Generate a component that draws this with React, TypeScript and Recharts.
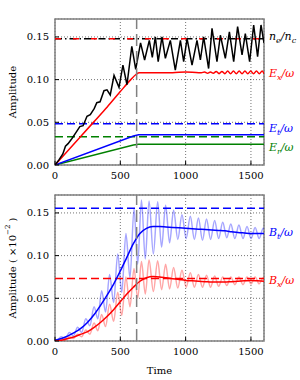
import { CartesianGrid, Line, LineChart, ReferenceArea, ReferenceDot, ReferenceLine, XAxis, YAxis } from 'recharts';

const FONT = '"DejaVu Serif", serif';

// top panel: density and field amplitudes
const neTime = [0, 30, 60, 80, 100, 130, 160, 190, 215, 245, 270, 300, 320, 345, 375, 398, 423, 452, 490, 520, 551, 588, 618, 655, 686, 722, 745, 768, 790, 819, 845, 883, 921, 960, 985, 1011, 1049, 1087, 1113, 1138, 1176, 1202, 1240, 1266, 1304, 1335, 1368, 1398, 1432, 1457, 1490, 1521, 1551, 1577, 1600];
const neVal = [0, 0.006, 0.013, 0.022, 0.025, 0.031, 0.038, 0.045, 0.046, 0.057, 0.059, 0.066, 0.073, 0.074, 0.087, 0.088, 0.082, 0.105, 0.091, 0.117, 0.094, 0.139, 0.112, 0.143, 0.123, 0.146, 0.126, 0.150, 0.121, 0.150, 0.125, 0.146, 0.111, 0.146, 0.121, 0.148, 0.117, 0.146, 0.123, 0.150, 0.113, 0.160, 0.121, 0.152, 0.125, 0.156, 0.121, 0.162, 0.129, 0.154, 0.121, 0.164, 0.127, 0.164, 0.143];

const exTime = [0, 100, 200, 300, 400, 500, 580, 620, 645, 700, 800, 900, 1000, 1100, 1120, 1145, 1168, 1190, 1212, 1234, 1256, 1278, 1300, 1322, 1344, 1366, 1388, 1410, 1432, 1454, 1476, 1498, 1520, 1542, 1564, 1586, 1600];
const exVal = [0, 0.017, 0.034, 0.051, 0.068, 0.086, 0.100, 0.106, 0.108, 0.108, 0.108, 0.108, 0.109, 0.108, 0.108, 0.109, 0.1075, 0.109, 0.1075, 0.1095, 0.107, 0.1095, 0.107, 0.110, 0.107, 0.110, 0.107, 0.110, 0.107, 0.110, 0.107, 0.110, 0.107, 0.110, 0.107, 0.110, 0.107];

const etTime = [0, 600, 640, 1600];
const etVal = [0, 0.034, 0.0353, 0.0353];
const erTime = [0, 600, 640, 1600];
const erVal = [0, 0.0235, 0.0243, 0.0243];

const topThresholds = { ne: 0.148, et: 0.0484, er: 0.0332 };

// bottom panel: magnetic field amplitudes
const smoothTime = [0, 50, 100, 150, 200, 250, 300, 350, 400, 450, 500, 550, 600, 650, 700, 750, 800, 850, 900, 950, 1000, 1050, 1100, 1150, 1200, 1250, 1300, 1350, 1400, 1450, 1500, 1550, 1600];
const btSmooth = [0.001, 0.003, 0.006, 0.010, 0.015, 0.022, 0.031, 0.042, 0.054, 0.067, 0.082, 0.098, 0.114, 0.126, 0.132, 0.134, 0.134, 0.1335, 0.133, 0.1325, 0.132, 0.1315, 0.131, 0.1305, 0.130, 0.1295, 0.129, 0.128, 0.127, 0.1265, 0.126, 0.126, 0.126];
const bxSmooth = [0, 0.001, 0.003, 0.005, 0.008, 0.011, 0.016, 0.022, 0.029, 0.037, 0.046, 0.055, 0.063, 0.070, 0.074, 0.0755, 0.075, 0.074, 0.073, 0.072, 0.071, 0.0705, 0.070, 0.0695, 0.069, 0.069, 0.069, 0.0695, 0.070, 0.0705, 0.071, 0.0705, 0.070];

const oscTime = [0, 16, 47, 78, 110, 141, 173, 204, 236, 267, 299, 328, 357, 387, 418, 449, 480, 511, 543, 574, 605, 633, 662, 691, 720, 753, 786, 816, 847, 877, 908, 940, 972, 1004, 1036, 1067, 1098, 1129, 1160, 1191, 1222, 1253, 1284, 1315, 1346, 1377, 1408, 1439, 1470, 1501, 1532, 1563, 1594, 1600];
const btOsc = [0.001, 0.001, 0.005, 0.003, 0.010, 0.006, 0.016, 0.010, 0.026, 0.018, 0.040, 0.026, 0.059, 0.034, 0.078, 0.045, 0.102, 0.057, 0.126, 0.074, 0.155, 0.090, 0.165, 0.096, 0.164, 0.102, 0.163, 0.110, 0.159, 0.115, 0.153, 0.119, 0.148, 0.120, 0.146, 0.119, 0.144, 0.118, 0.143, 0.119, 0.141, 0.120, 0.139, 0.121, 0.137, 0.120, 0.136, 0.120, 0.134, 0.120, 0.133, 0.120, 0.132, 0.131];
const bxOsc = [0, 0, 0.002, 0.001, 0.005, 0.003, 0.008, 0.005, 0.013, 0.008, 0.021, 0.012, 0.031, 0.017, 0.043, 0.023, 0.057, 0.030, 0.075, 0.040, 0.085, 0.050, 0.093, 0.055, 0.095, 0.058, 0.094, 0.060, 0.090, 0.061, 0.086, 0.062, 0.083, 0.063, 0.080, 0.063, 0.078, 0.063, 0.077, 0.063, 0.076, 0.064, 0.075, 0.065, 0.075, 0.066, 0.075, 0.066, 0.075, 0.067, 0.075, 0.067, 0.074, 0.073];

const bottomThresholds = { bt: 0.1555, bx: 0.0732 };

const X_TICKS = [0, 500, 1000, 1500];
const Y_TICKS = [0, 0.05, 0.1, 0.15];
const Y_MAX = 0.171;
const SATURATION_TIME = 625;

const zip = (t: number[], v: number[]) => t.map((x, i) => ({ t: x, v: v[i] }));

const tickStyle = { fontFamily: FONT, fontSize: 10, fill: '#000' };

type Part = { s: string; sub?: boolean };

function MathLabel({ viewBox, parts, color }: any) {
    const x = viewBox.x + 5;
    const y = viewBox.y + 3.5;
    let shift = 0;
    return (
        <text x={x} y={y} fill={color} fontFamily={FONT} fontStyle="italic" fontSize={11}>
            {parts.map((p: Part, i: number) => {
                const target = p.sub ? 3 : 0;
                const dy = target - shift;
                shift = target;
                return (
                    <tspan key={i} dy={dy} fontSize={p.sub ? 8 : 11}>{p.s}</tspan>
                );
            })}
        </text>
    );
}

function YTitle({ viewBox, sci }: any) {
    const x = viewBox.x + 12;
    const y = viewBox.y + viewBox.height / 2;
    return (
        <text x={x} y={y} transform={`rotate(-90 ${x} ${y})`} textAnchor="middle" dominantBaseline="central"
            fontFamily={FONT} fontSize={10} fill="#000">
            Amplitude
            {sci && <tspan> ( ×10</tspan>}
            {sci && <tspan dy={-4} fontSize={7}>−2</tspan>}
            {sci && <tspan dy={4}> )</tspan>}
        </text>
    );
}

function XTitle({ viewBox }: any) {
    return (
        <text x={viewBox.x + viewBox.width / 2} y={viewBox.y + 33} textAnchor="middle"
            fontFamily={FONT} fontSize={10} fill="#000">
            Time
        </text>
    );
}

function frameAxes(xHeight: number, sci: boolean, withTime: boolean) {
    return [
        <XAxis key="xb" dataKey="t" type="number" domain={[0, 1600]} ticks={X_TICKS} interval={0}
            allowDataOverflow axisLine={false} tick={tickStyle} tickSize={-4} tickMargin={11}
            tickLine={{ stroke: '#000' }} height={xHeight}
            label={withTime ? <XTitle /> : undefined} />,
        <XAxis key="xt" xAxisId="top" orientation="top" type="number" domain={[0, 1600]} ticks={X_TICKS}
            interval={0} axisLine={false} tickFormatter={() => ''} tickSize={-4}
            tickLine={{ stroke: '#000' }} height={0} />,
        <YAxis key="yl" type="number" domain={[0, Y_MAX]} ticks={Y_TICKS} interval={0} allowDataOverflow
            axisLine={false} tick={tickStyle} tickSize={-4} tickMargin={10} tickLine={{ stroke: '#000' }}
            tickFormatter={(v: number) => v.toFixed(2)} width={55} label={<YTitle sci={sci} />} />,
        <YAxis key="yr" yAxisId="right" orientation="right" type="number" domain={[0, Y_MAX]} ticks={Y_TICKS}
            interval={0} axisLine={false} tickFormatter={() => ''} tickSize={-4}
            tickLine={{ stroke: '#000' }} width={0} />,
        <CartesianGrid key="grid" strokeDasharray="1 2" stroke="#000" strokeOpacity={0.55} />,
    ];
}

function sideLabel(key: string, y: number, color: string, parts: Part[]) {
    return (
        <ReferenceDot key={key} x={1600} y={y} r={0} fill="none" stroke="none" ifOverflow="visible"
            label={<MathLabel parts={parts} color={color} />} />
    );
}

function TopPanel() {
    return (
        <LineChart width={300} height={190} margin={{ top: 19, right: 36, bottom: 0, left: 0 }}>
            {frameAxes(25, false, false)}
            <ReferenceLine y={topThresholds.ne} stroke="#000" strokeWidth={1.5} strokeDasharray="7 3 1.5 3" />
            <ReferenceLine y={topThresholds.ne} stroke="#ff0000" strokeWidth={1.5} strokeDasharray="6 12" />
            <ReferenceLine y={topThresholds.et} stroke="#0000ff" strokeWidth={1.5} strokeDasharray="8 4" />
            <ReferenceLine y={topThresholds.er} stroke="#008000" strokeWidth={1.5} strokeDasharray="8 4" />
            <Line data={zip(erTime, erVal)} dataKey="v" type="linear" stroke="#008000" strokeWidth={1.5} dot={false} isAnimationActive={false} />
            <Line data={zip(etTime, etVal)} dataKey="v" type="linear" stroke="#0000ff" strokeWidth={1.5} dot={false} isAnimationActive={false} />
            <Line data={zip(exTime, exVal)} dataKey="v" type="monotone" stroke="#ff0000" strokeWidth={1.5} dot={false} isAnimationActive={false} />
            <Line data={zip(neTime, neVal)} dataKey="v" type="linear" stroke="#000" strokeWidth={1.5} dot={false} isAnimationActive={false} />
            <ReferenceLine x={SATURATION_TIME} stroke="#808080" strokeWidth={1.5} strokeDasharray="12 5" />
            <ReferenceArea x1={0} x2={1600} y1={0} y2={Y_MAX} fill="none" stroke="#808080" strokeWidth={1.5} />
            {sideLabel('ne', 0.150, '#000', [{ s: 'n' }, { s: 'e', sub: true }, { s: '/n' }, { s: 'c', sub: true }])}
            {sideLabel('ex', 0.1077, '#ff0000', [{ s: 'E' }, { s: 'x', sub: true }, { s: '/ω' }])}
            {sideLabel('et', 0.0425, '#0000ff', [{ s: 'E' }, { s: 't', sub: true }, { s: '/ω' }])}
            {sideLabel('er', 0.021, '#008000', [{ s: 'E' }, { s: 'r', sub: true }, { s: '/ω' }])}
        </LineChart>
    );
}

function BottomPanel() {
    return (
        <LineChart width={300} height={190} margin={{ top: 5, right: 36, bottom: 0, left: 0 }}>
            {frameAxes(39, true, true)}
            <Line data={zip(oscTime, btOsc)} dataKey="v" type="monotone" stroke="#0000ff" strokeOpacity={0.35} strokeWidth={1.5} dot={false} isAnimationActive={false} />
            <Line data={zip(oscTime, bxOsc)} dataKey="v" type="monotone" stroke="#ff0000" strokeOpacity={0.35} strokeWidth={1.5} dot={false} isAnimationActive={false} />
            <ReferenceLine y={bottomThresholds.bt} stroke="#0000ff" strokeWidth={1.5} strokeDasharray="8 4" />
            <ReferenceLine y={bottomThresholds.bx} stroke="#ff0000" strokeWidth={1.5} strokeDasharray="8 4" />
            <Line data={zip(smoothTime, btSmooth)} dataKey="v" type="monotone" stroke="#0000ff" strokeWidth={1.5} dot={false} isAnimationActive={false} />
            <Line data={zip(smoothTime, bxSmooth)} dataKey="v" type="monotone" stroke="#ff0000" strokeWidth={1.5} dot={false} isAnimationActive={false} />
            <ReferenceLine x={SATURATION_TIME} stroke="#808080" strokeWidth={1.5} strokeDasharray="12 5" />
            <ReferenceArea x1={0} x2={1600} y1={0} y2={Y_MAX} fill="none" stroke="#808080" strokeWidth={1.5} />
            {sideLabel('bt', 0.1268, '#0000ff', [{ s: 'B' }, { s: 't', sub: true }, { s: '/ω' }])}
            {sideLabel('bx', 0.0703, '#ff0000', [{ s: 'B' }, { s: 'x', sub: true }, { s: '/ω' }])}
        </LineChart>
    );
}

export default function App() {
    return (
        <div style={{ position: 'absolute', left: 0, top: 0, width: 300, height: 380, background: '#fff' }}>
            <TopPanel />
            <BottomPanel />
        </div>
    );
}
